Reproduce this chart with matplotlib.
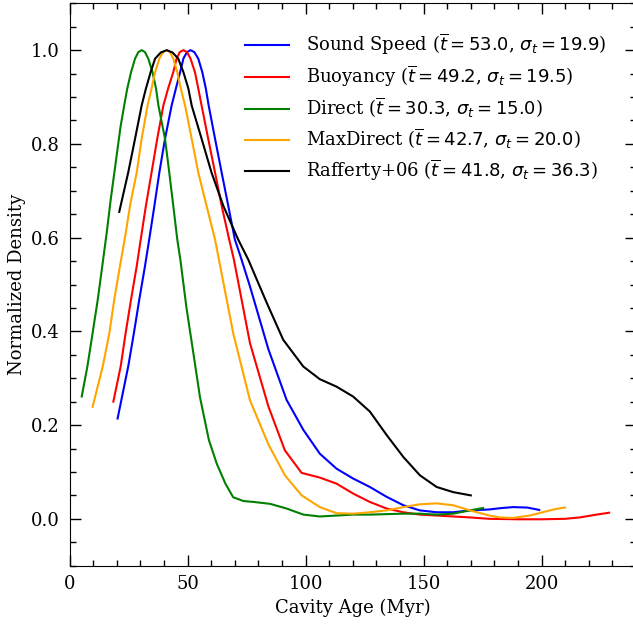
import matplotlib
matplotlib.use("Agg")
import matplotlib.pyplot as plt
from matplotlib.ticker import MultipleLocator

plt.rcParams['font.family'] = ['DejaVu Serif']
plt.rcParams['mathtext.fontset'] = 'dejavusans'
plt.rcParams['font.size'] = 13

# values (Myr, normalized density)
sound_x = [20.3, 24.8, 27.2, 29.5, 31.9, 33.7, 35.9, 38.0, 40.4, 43.2, 45.0, 46.8, 48.2, 49.7, 51.2,
           52.8, 54.5, 56.2, 57.7, 58.9, 61.6, 64.4, 67.2, 70.0, 72.4, 76.4, 84.2, 91.9, 99.0,
           106.0, 113.1, 120.1, 127.2, 134.3, 141.4, 148.4, 155.5, 162.5, 169.6, 177.9,
           183.0, 188.0, 194.0, 199.0]
sound_y = [0.214, 0.325, 0.396, 0.468, 0.539, 0.596, 0.668, 0.739, 0.811, 0.882, 0.918, 0.953, 0.982, 0.996, 1.0,
           0.996, 0.982, 0.953, 0.918, 0.882, 0.811, 0.739, 0.668, 0.596, 0.56, 0.496, 0.362, 0.254, 0.190,
           0.139, 0.107, 0.086, 0.068, 0.047, 0.029, 0.018, 0.014, 0.014, 0.018, 0.020,
           0.023, 0.025, 0.024, 0.019]

buoy_x = [18.5, 21.6, 23.7, 26.0, 28.4, 30.1, 32.3, 34.7, 37.1, 39.7, 41.7, 43.9, 45.3, 46.7, 48.2,
          49.7, 51.2, 53.1, 54.5, 55.9, 58.7, 61.6, 64.4, 67.6, 69.6, 76.4, 84.2, 91.2, 98.3,
          106.0, 113.1, 120.1, 127.2, 134.3, 141.4, 148.4, 155.5, 169.6, 177.9, 190.0,
          200.0, 210.0, 216.2, 223.3, 228.6]
buoy_y = [0.25, 0.325, 0.396, 0.468, 0.539, 0.596, 0.668, 0.739, 0.811, 0.882, 0.918, 0.953, 0.982, 0.996, 1.0,
          0.996, 0.982, 0.953, 0.918, 0.882, 0.811, 0.739, 0.668, 0.596, 0.553, 0.375, 0.24, 0.146, 0.098,
          0.088, 0.075, 0.054, 0.036, 0.022, 0.014, 0.009, 0.007, 0.003, 0.0, -0.001,
          -0.001, 0.0, 0.003, 0.009, 0.013]

direct_x = [5.1, 7.5, 9.7, 11.9, 13.8, 15.7, 17.4, 19.5, 21.5, 23.1, 24.4, 26.0, 27.7, 29.1, 30.5,
            31.9, 33.3, 35.1, 36.6, 37.6, 40.4, 42.2, 43.9, 45.6, 46.9, 49.5, 52.4, 55.2, 59.0,
            62.3, 66.0, 69.3, 73.6, 78.0, 84.9, 91.9, 99.0, 106.0, 113.1, 120.1, 127.2,
            134.3, 141.4, 148.4, 155.5, 162.5, 169.6, 175.2]
direct_y = [0.261, 0.325, 0.396, 0.468, 0.539, 0.611, 0.682, 0.76, 0.835, 0.882, 0.918, 0.953, 0.982, 0.996, 1.0,
            0.996, 0.982, 0.953, 0.918, 0.882, 0.811, 0.739, 0.668, 0.596, 0.553, 0.45, 0.354, 0.26, 0.168,
            0.118, 0.075, 0.046, 0.038, 0.036, 0.032, 0.022, 0.009, 0.005, 0.007, 0.009, 0.009,
            0.010, 0.011, 0.011, 0.009, 0.011, 0.018, 0.023]

maxd_x = [9.7, 14.0, 16.8, 18.9, 21.5, 23.6, 25.8, 28.4, 30.5, 33.0, 34.7, 36.2, 38.0, 39.6, 41.1,
          42.5, 43.9, 45.6, 47.1, 48.9, 51.7, 54.5, 58.0, 61.6, 69.3, 76.4, 84.2, 91.2,
          98.3, 106.0, 113.1, 120.1, 127.2, 134.3, 141.4, 148.4, 155.5, 162.5, 169.6,
          177.9, 182.3, 188.0, 195.0, 202.0, 206.0, 209.9]
maxd_y = [0.239, 0.325, 0.396, 0.468, 0.545, 0.605, 0.675, 0.739, 0.811, 0.882, 0.918, 0.953, 0.982, 0.996, 1.0,
          0.996, 0.982, 0.953, 0.918, 0.882, 0.811, 0.739, 0.668, 0.596, 0.396, 0.253, 0.159, 0.093,
          0.05, 0.025, 0.012, 0.011, 0.014, 0.018, 0.025, 0.031, 0.033, 0.029, 0.018,
          0.007, 0.003, 0.002, 0.007, 0.016, 0.021, 0.024]

raff_x = [21.0, 24.8, 27.7, 30.5, 32.3, 34.3, 36.2, 38.6, 41.1, 43.6, 46.0, 48.2, 50.3, 51.7, 55.9,
          60.1, 65.1, 71.4, 75.7, 83.5, 90.5, 99.0, 106.0, 113.1, 120.1, 127.2, 134.3,
          141.4, 148.4, 155.5, 162.5, 170.0]
raff_y = [0.655, 0.739, 0.811, 0.882, 0.918, 0.953, 0.982, 0.995, 1.0, 0.995, 0.982, 0.953, 0.918, 0.882, 0.811,
          0.739, 0.668, 0.596, 0.553, 0.461, 0.382, 0.325, 0.298, 0.282, 0.261, 0.229, 0.179,
          0.132, 0.093, 0.068, 0.057, 0.050]

labels = [r'Sound Speed ($\overline{t} = 53.0$, $\sigma_t = 19.9$)',
          r'Buoyancy ($\overline{t} = 49.2$, $\sigma_t = 19.5$)',
          r'Direct ($\overline{t} = 30.3$, $\sigma_t = 15.0$)',
          r'MaxDirect ($\overline{t} = 42.7$, $\sigma_t = 20.0$)',
          r'Rafferty+06 ($\overline{t} = 41.8$, $\sigma_t = 36.3$)']
colors = ['blue', 'red', 'green', 'orange', 'black']
series = [(sound_x, sound_y), (buoy_x, buoy_y), (direct_x, direct_y),
          (maxd_x, maxd_y), (raff_x, raff_y)]

fig = plt.figure(figsize=(6.33, 6.25), dpi=100)
ax = fig.add_axes([0.1101, 0.0949, 0.8946, 0.8998])

for (x, y), c, lab in zip(series, colors, labels):
    ax.plot(x, y, color=c, lw=1.5, label=lab)

ax.set_xlim(0, 240)
ax.set_ylim(-0.1, 1.1)
ax.xaxis.set_major_locator(MultipleLocator(50))
ax.xaxis.set_minor_locator(MultipleLocator(10))
ax.yaxis.set_major_locator(MultipleLocator(0.2))
ax.yaxis.set_minor_locator(MultipleLocator(0.05))
ax.tick_params(which='both', direction='in', top=True, right=True)
ax.tick_params(which='major', length=8, width=1, pad=7)
ax.tick_params(which='minor', length=4, width=1)

ax.set_xlabel('Cavity Age (Myr)')
ax.set_ylabel('Normalized Density')

ax.legend(loc='upper left', bbox_to_anchor=(0.3096, 0.9497), frameon=False,
          borderaxespad=0, borderpad=0, handlelength=2.45, handletextpad=0.95,
          labelspacing=0.36)

fig.savefig('out.png', dpi=100)
